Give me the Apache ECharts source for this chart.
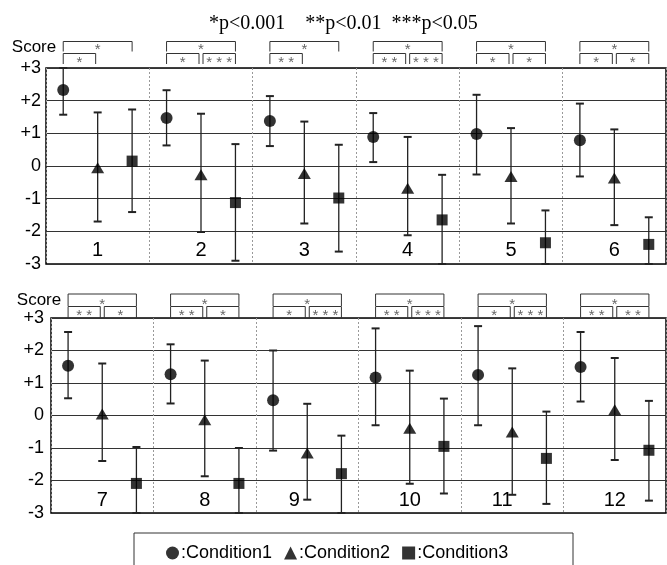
<!DOCTYPE html>
<html><head><meta charset="utf-8">
<script src="https://cdn.jsdelivr.net/npm/echarts@6/dist/echarts.min.js"></script>
<style>html,body{margin:0;padding:0;background:#fff}#c{width:667px;height:565px}</style>
</head><body><div id="c"></div><script>
// ---- data ----
const groupLabels = ['1','2','3','4','5','6','7','8','9','10','11','12'];
const conditionNames = ['Condition1','Condition2','Condition3'];
const cond1Mean = [2.33, 1.47, 1.38, 0.89, 0.98, 0.79, 1.53, 1.27, 0.47, 1.17, 1.25, 1.49];
const cond1Low  = [1.57, 0.63, 0.61, 0.12, -0.26, -0.32, 0.53, 0.37, -1.08, -0.30, -0.30, 0.43];
const cond1High = [3.00, 2.32, 2.14, 1.62, 2.18, 1.91, 2.57, 2.19, 2.00, 2.68, 2.75, 2.57];
const cond2Mean = [-0.05, -0.27, -0.23, -0.68, -0.32, -0.37, 0.05, -0.13, -1.15, -0.39, -0.51, 0.18];
const cond2Low  = [-1.70, -2.02, -1.76, -2.12, -1.76, -1.81, -1.40, -1.87, -2.59, -2.10, -2.44, -1.37];
const cond2High = [1.64, 1.60, 1.36, 0.89, 1.16, 1.12, 1.60, 1.69, 0.36, 1.38, 1.45, 1.77];
const cond3Mean = [0.15, -1.12, -0.98, -1.65, -2.35, -2.40, -2.09, -2.09, -1.79, -0.95, -1.32, -1.07];
const cond3Low  = [-1.41, -2.90, -2.62, -3.00, -3.00, -3.00, -3.00, -3.00, -3.00, -2.40, -2.72, -2.62];
const cond3High = [1.73, 0.67, 0.65, -0.27, -1.36, -1.57, -0.97, -1.00, -0.62, 0.52, 0.12, 0.45];
// significance: outer = 1 vs 3, left = 1 vs 2, right = 2 vs 3
const sigOuter = ['*','*','*','*','*','*','*','*','*','*','*','*'];
const sigLeft  = ['*','*','**','**','*','*','**','**','*','**','*','**'];
const sigRight = ['','***','','***','*','*','*','*','***','***','***','**'];
const yTickLabels = {'3':'+3','2':'+2','1':'+1','0':'0','-1':'-1','-2':'-2','-3':'-3'};
const titleText = '*p<0.001    **p<0.01  ***p<0.05';

// ---- chart ----
const means = [cond1Mean, cond2Mean, cond3Mean];
const lows = [cond1Low, cond2Low, cond3Low];
const highs = [cond1High, cond2High, cond3High];
const symbols = ['circle', 'triangle', 'rect'];
const symSizes = [12, [13, 11], 11];
const FONT = 'Liberation Sans, Arial, sans-serif';
const labelShift = {8: -13, 10: -10};
const panels = [
  {grid: {left: 46, right: 1, top: 68, height: 196}, outerTop: 26.5, outerLen: 10, innerTop: 14.5, innerBottom: 4,
   outerTxt: 8, innerTxt: 9, nameGap: 21, labelMargin: 5},
  {grid: {left: 51, right: 1, top: 318, height: 195}, outerTop: 24, outerLen: 12, innerTop: 11.5, innerBottom: 0,
   outerTxt: 10.5, innerTxt: 9.5, nameGap: 18, labelMargin: 7}
];

const grids = [], xAxes = [], yAxes = [], series = [];
panels.forEach((P, p) => {
  grids.push(Object.assign({show: true, borderColor: '#000', borderWidth: 1.5, backgroundColor: 'transparent'}, P.grid));
  xAxes.push({type: 'value', gridIndex: p, min: 0, max: 18, interval: 3,
    axisLine: {show: false}, axisTick: {show: false}, axisLabel: {show: false},
    splitLine: {show: true, lineStyle: {color: '#999', type: [2, 2], width: 1}}});
  yAxes.push({type: 'value', gridIndex: p, min: -3, max: 3, interval: 1,
    name: 'Score', nameLocation: 'end', nameGap: P.nameGap,
    nameTextStyle: {fontFamily: FONT, fontSize: 17, color: '#000', verticalAlign: 'middle', padding: [0, 24, 0, 0]},
    axisLine: {show: false}, axisTick: {show: false},
    axisLabel: {fontFamily: FONT, fontSize: 18, color: '#000', margin: P.labelMargin,
      formatter: v => yTickLabels[String(v)]},
    splitLine: {show: true, lineStyle: {color: '#333', width: 1}}});
  // error bars
  for (let c = 0; c < 3; c++) {
    const d = [];
    for (let g = 0; g < 6; g++) {
      const i = p * 6 + g;
      d.push([3 * g + c + 0.5, lows[c][i], highs[c][i]]);
    }
    series.push({type: 'custom', xAxisIndex: p, yAxisIndex: p, z: 2, silent: true,
      encode: {x: 0, y: [1, 2]}, data: d,
      renderItem: (params, api) => {
        const x = api.value(0);
        const a = api.coord([x, api.value(1)]), b = api.coord([x, api.value(2)]);
        const cw = 4, st = {stroke: '#222', lineWidth: 1.3};
        return {type: 'group', children: [
          {type: 'line', shape: {x1: a[0], y1: a[1], x2: b[0], y2: b[1]}, style: st},
          {type: 'line', shape: {x1: a[0] - cw, y1: a[1], x2: a[0] + cw, y2: a[1]}, style: {stroke: '#222', lineWidth: 2}},
          {type: 'line', shape: {x1: b[0] - cw, y1: b[1], x2: b[0] + cw, y2: b[1]}, style: {stroke: '#222', lineWidth: 2}}
        ]};
      }});
  }
  // markers
  for (let c = 0; c < 3; c++) {
    const d = [];
    for (let g = 0; g < 6; g++) d.push([3 * g + c + 0.5, means[c][p * 6 + g]]);
    series.push({type: 'scatter', name: conditionNames[c], xAxisIndex: p, yAxisIndex: p, z: 3,
      symbol: symbols[c], symbolSize: symSizes[c], itemStyle: {color: '#000'}, data: d, silent: true});
  }
  // significance brackets + group labels
  const gd = [];
  for (let g = 0; g < 6; g++) gd.push([g]);
  series.push({type: 'custom', xAxisIndex: p, yAxisIndex: p, z: 5, clip: false, silent: true,
    data: gd, encode: {x: 0},
    renderItem: (params, api) => {
      const g = params.dataIndex, i = p * 6 + g;
      const top = api.coord([0, 3])[1];
      const x1 = api.coord([3 * g + 0.5, 0])[0];
      const x2 = api.coord([3 * g + 1.5, 0])[0];
      const x3 = api.coord([3 * g + 2.5, 0])[0];
      const oT = top - P.outerTop, oB = oT + P.outerLen;
      const iT = top - P.innerTop, iB = top - P.innerBottom;
      const ls = {stroke: '#333', lineWidth: 1, fill: null};
      const ts = (txt, x, y) => ({type: 'text', style: {text: txt.split('').join(' '), x: x, y: y,
        fill: '#666', font: '15px ' + FONT, textAlign: 'center', textVerticalAlign: 'middle'}});
      const ch = [];
      ch.push({type: 'polyline', shape: {points: [[x1, oB], [x1, oT], [x3, oT], [x3, oB]]}, style: ls});
      ch.push(ts(sigOuter[i], (x1 + x3) / 2, oT + P.outerTxt));
      if (sigLeft[i]) {
        ch.push({type: 'polyline', shape: {points: [[x1, iB], [x1, iT], [x2 - 2, iT], [x2 - 2, iB]]}, style: ls});
        ch.push(ts(sigLeft[i], (x1 + x2 - 2) / 2, iT + P.innerTxt));
      }
      if (sigRight[i]) {
        ch.push({type: 'polyline', shape: {points: [[x2 + 2, iB], [x2 + 2, iT], [x3, iT], [x3, iB]]}, style: ls});
        ch.push(ts(sigRight[i], (x2 + 2 + x3) / 2, iT + P.innerTxt));
      }
      const lp = api.coord([3 * g + 1.5, -2.6]);
      ch.push({type: 'text', style: {text: groupLabels[i], x: lp[0] + (labelShift[i] || 0), y: lp[1],
        fill: '#000', font: '20px ' + FONT, textAlign: 'center', textVerticalAlign: 'middle'}});
      return {type: 'group', children: ch};
    }});
});

const chart = echarts.init(document.getElementById('c'), null, {renderer: 'canvas'});
chart.setOption({
  animation: false,
  backgroundColor: '#fff',
  title: {text: titleText, left: 204, top: 9,
    textStyle: {fontFamily: 'Liberation Serif, Times New Roman, serif', fontSize: 20, fontWeight: 'normal', color: '#000'}},
  grid: grids, xAxis: xAxes, yAxis: yAxes,
  legend: {left: 161, top: 539, itemWidth: 13, itemHeight: 13, itemGap: 12, selectedMode: false,
    data: conditionNames.map((n, c) => ({name: n, icon: symbols[c]})),
    formatter: n => ':' + n,
    textStyle: {fontFamily: FONT, fontSize: 18, color: '#000', padding: [0, 0, 0, -3]}},
  graphic: [{type: 'rect', left: 131.5, top: 530.5, shape: {width: 439, height: 40},
    style: {fill: 'none', stroke: '#333', lineWidth: 1}}],
  series: series
});
</script></body></html>
